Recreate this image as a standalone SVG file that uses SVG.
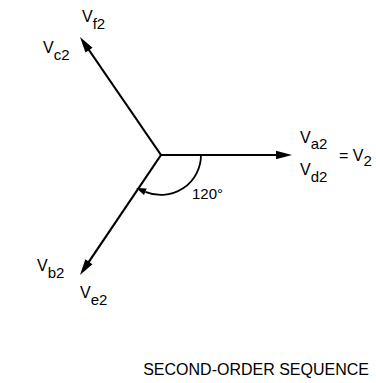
<svg xmlns="http://www.w3.org/2000/svg" width="376" height="383" viewBox="0 0 376 383">
<style>
.vec{stroke:#000;stroke-width:2.2;fill:none}
.lbl{font-family:"Liberation Sans",Arial,sans-serif;font-size:16px;fill:#000}
.sub{font-size:15px}
.ttl{font-family:"Liberation Sans",Arial,sans-serif;font-size:16px;fill:#000}
</style>
<defs>
<marker id="ah" markerUnits="userSpaceOnUse" markerWidth="20" markerHeight="12" refX="2" refY="0" viewBox="0 -6 20 12" orient="auto" overflow="visible">
<path d="M0,-4.3 L16,0 L0,4.3 z" fill="#000"/>
</marker>
<marker id="ahs" markerUnits="userSpaceOnUse" markerWidth="14" markerHeight="10" refX="0" refY="0" viewBox="0 -5 14 10" orient="auto" overflow="visible">
<path d="M0,-3.5 L10,0 L0,3.5 z" fill="#000"/>
</marker>
</defs>
<g id="connectors">
<line class="vec" x1="161" y1="155" x2="278" y2="155" marker-end="url(#ah)"/>
<line class="vec" x1="161" y1="155" x2="87.9" y2="48.5" marker-end="url(#ah)"/>
<line class="vec" x1="161" y1="155" x2="87.8" y2="263.4" marker-end="url(#ah)"/>
<path class="vec" style="stroke-width:1.8" d="M201,155 A40,40 0 0 1 145.4,191.8" marker-end="url(#ahs)"/>
</g>
<g id="angle-label"><text class="lbl" x="192" y="199" style="font-size:15px">120°</text></g>
<g id="node-vf2"><text class="lbl" x="82" y="22">V<tspan class="sub" dy="7">f2</tspan></text></g>
<g id="node-vc2"><text class="lbl" x="43" y="53">V<tspan class="sub" dy="7">c2</tspan></text></g>
<g id="node-va2"><text class="lbl" x="300" y="143">V<tspan class="sub" dy="6">a2</tspan></text></g>
<g id="node-vd2"><text class="lbl" x="300" y="175">V<tspan class="sub" dy="7">d2</tspan></text></g>
<g id="node-v2"><text class="lbl" x="339" y="161">= V<tspan class="sub" dy="5">2</tspan></text></g>
<g id="node-vb2"><text class="lbl" x="37" y="271">V<tspan class="sub" dy="7">b2</tspan></text></g>
<g id="node-ve2"><text class="lbl" x="80" y="298">V<tspan class="sub" dy="7">e2</tspan></text></g>
<g id="title"><text class="ttl" x="369" y="375" text-anchor="end">SECOND-ORDER SEQUENCE</text></g>
</svg>
